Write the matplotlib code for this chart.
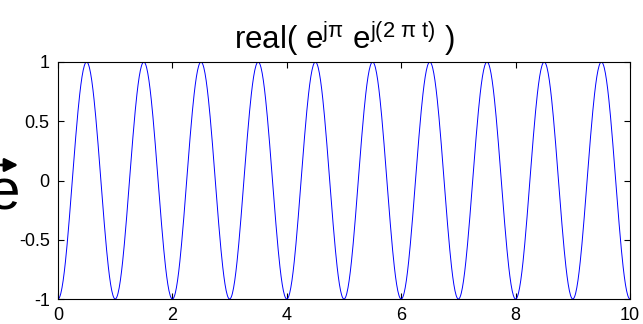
import numpy as np
import matplotlib
matplotlib.use("Agg")
import matplotlib.pyplot as plt

plt.rcParams['font.family'] = ['Liberation Sans', 'DejaVu Sans']
plt.rcParams['mathtext.fontset'] = 'custom'
plt.rcParams['mathtext.rm'] = 'Liberation Sans'
plt.rcParams['mathtext.it'] = 'Liberation Sans'
plt.rcParams['axes.unicode_minus'] = False

# time axis and the signal real(e^{j*pi} * e^{j*2*pi*t})
t_start, t_stop, t_step = 0.0, 10.0, 0.01
t = np.arange(t_start, t_stop + t_step / 2, t_step)
phase0 = np.pi
freq = 1.0
signal = np.real(np.exp(1j * phase0) * np.exp(1j * 2 * np.pi * freq * t))

x_ticks = [0, 2, 4, 6, 8, 10]
y_ticks = [-1, -0.5, 0, 0.5, 1]
y_ticklabels = ['-1', '-0.5', '0', '0.5', '1']

fig = plt.figure(figsize=(6.43, 3.24), dpi=100)
ax = fig.add_axes([58 / 643, 1 - 299 / 324, (630 - 58) / 643, (299 - 62) / 324])

ax.plot(t, signal, color=(0, 0, 1), lw=0.7)
ax.set_xlim(0, 10)
ax.set_ylim(-1, 1)
ax.set_xticks(x_ticks)
ax.set_xticklabels([str(v) for v in x_ticks])
ax.set_yticks(y_ticks)
ax.set_yticklabels(y_ticklabels)
ax.tick_params(direction='in', length=4, width=0.8, top=True, right=True,
               labelsize=13, colors='black')
ax.tick_params(axis='y', pad=6)
ax.tick_params(axis='x', pad=6)
for s in ax.spines.values():
    s.set_linewidth(0.8)

ax.set_title(r'real( e$^{\mathrm{jπ}}$ e$^{\mathrm{j(2\ π\ t)}}$ )', fontsize=22.5, pad=9)

# y-axis label: large "e" with an arrow over it
fig.text(-12, 324 - 210, 'e', fontsize=42, ha='left', va='baseline',
         transform=None)
fig.patches.append(matplotlib.patches.FancyArrowPatch(
    (-2, 324 - 165), (21, 324 - 165), transform=None,
    arrowstyle='-|>,head_length=8,head_width=4', color='black', lw=2,
    mutation_scale=1))

fig.savefig('out.png', dpi=100)
